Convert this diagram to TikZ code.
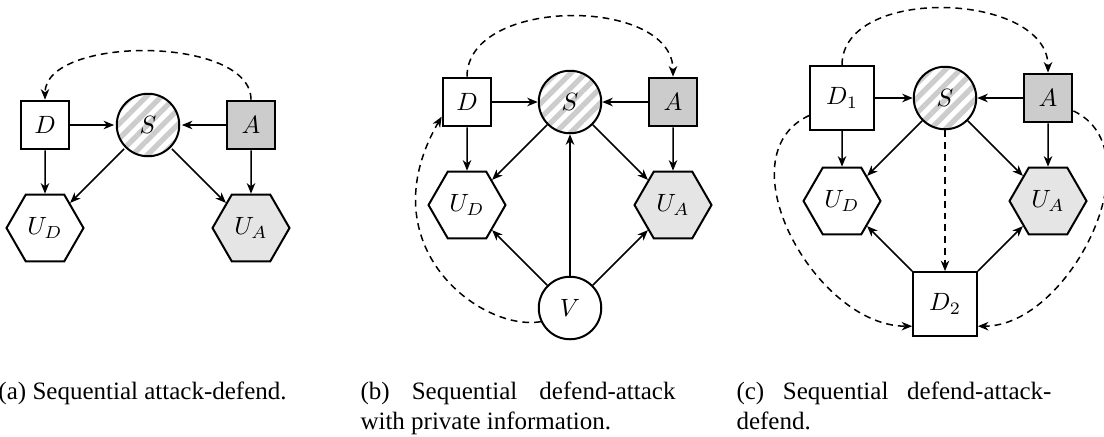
\documentclass[tikz,border=0pt]{standalone}
\usepackage[no-math]{fontspec}
\setmainfont{Liberation Serif}
\usepackage{amsmath}
\usetikzlibrary{shapes,arrows.meta,positioning,patterns.meta,calc}

\begin{document}
\begin{tikzpicture}[x=0.4pt,y=0.4pt,node distance=41.2pt,on grid,
  decnode/.style={draw,thick,rectangle,minimum size=19.5pt,inner sep=0pt},
  bigdec/.style={decnode,minimum size=25.5pt},
  chancenode/.style={draw,thick,circle,minimum size=25pt,inner sep=0pt},
  striped/.style={pattern={Lines[angle=45,distance=4.2pt,line width=2.1pt]},pattern color=gray!40},
  utilnode/.style={draw,thick,regular polygon,regular polygon sides=6,minimum size=30.8pt,inner sep=0pt},
  arrowline/.style={semithick,-{Stealth[length=4.2pt,width=3.4pt,inset=1.3pt]}},
  infoarc/.style={arrowline,dash pattern=on 2.7pt off 2pt},
  caption/.style={inner sep=0pt,text width=126pt,align=justify,anchor=north west}]
\useasboundingbox (0,0) rectangle (1104,436);

% (a) attack-defend
\node[chancenode,striped] (Sa) at (148,311) {$S$};
\node[decnode,left=of Sa] (Da) {$D$};
\node[decnode,fill=gray!40,right=of Sa] (Aa) {$A$};
\node[utilnode,below=of Da] (UDa) {$U_D$};
\node[utilnode,fill=gray!20,below=of Aa] (UAa) {$U_A$};

\draw[arrowline] (Da) -- (Sa);
\draw[arrowline] (Aa) -- (Sa);
\draw[arrowline] (Da) -- (UDa);
\draw[arrowline] (Sa) -- (UDa);
\draw[arrowline] (Sa) -- (UAa);
\draw[arrowline] (Aa) -- (UAa);
\draw[infoarc] (Aa.north) to[out=90,in=90,looseness=0.8] (Da.north);

% (b) defend-attack, private information
\node[chancenode,striped] (Sb) at (570,334) {$S$};
\node[decnode,left=of Sb] (Db) {$D$};
\node[decnode,fill=gray!40,right=of Sb] (Ab) {$A$};
\node[utilnode,below=of Db] (UDb) {$U_D$};
\node[utilnode,fill=gray!20,below=of Ab] (UAb) {$U_A$};
\node[chancenode,below=82.4pt of Sb] (Vb) {$V$};

\draw[arrowline] (Db) -- (Sb);
\draw[arrowline] (Ab) -- (Sb);
\draw[arrowline] (Db) -- (UDb);
\draw[arrowline] (Sb) -- (UDb);
\draw[arrowline] (Sb) -- (UAb);
\draw[arrowline] (Ab) -- (UAb);
\draw[arrowline] (Vb) -- (UDb);
\draw[arrowline] (Vb) -- (Sb);
\draw[arrowline] (Vb) -- (UAb);
\draw[infoarc] (Db.north) to[out=90,in=90] (Ab.north);
\draw[infoarc] (Vb.205) .. controls +(190:24pt) and +(240:60pt) .. (Db.210);

% (c) defend-attack-defend
\node[chancenode,striped] (Sc) at (945,338) {$S$};
\node[bigdec,left=of Sc] (D1c) {$D_1$};
\node[decnode,fill=gray!40,right=of Sc] (Ac) {$A$};
\node[utilnode,below=of D1c] (UDc) {$U_D$};
\node[utilnode,fill=gray!20,below=of Ac] (UAc) {$U_A$};
\node[bigdec,below=82.4pt of Sc] (D2c) {$D_2$};

\draw[arrowline] (D1c) -- (Sc);
\draw[arrowline] (Ac) -- (Sc);
\draw[arrowline] (D1c) -- (UDc);
\draw[arrowline] (Sc) -- (UDc);
\draw[arrowline] (Sc) -- (UAc);
\draw[arrowline] (Ac) -- (UAc);
\draw[arrowline] (D2c) -- (UDc);
\draw[arrowline] (D2c) -- (UAc);
\draw[infoarc] (Sc) -- (D2c);
\draw[infoarc] (D1c.north) to[out=90,in=90] (Ac.north);
\draw[infoarc] (D1c.208) to[out=205,in=180,looseness=1.05] (D2c.214);
\draw[infoarc] (Ac.333) to[out=-25,in=0,looseness=1.0] (D2c.326);

% captions
\node[anchor=base west,inner sep=0pt] (capa) at (-2,37) {(a) Sequential attack-defend.};
\node[caption] (capb) at (360,54.5) {(b) Sequential defend-attack with private information.};
\node[caption] (capc) at (736,54.5) {(c) Sequential defend-attack-defend.};
\end{tikzpicture}
\end{document}
